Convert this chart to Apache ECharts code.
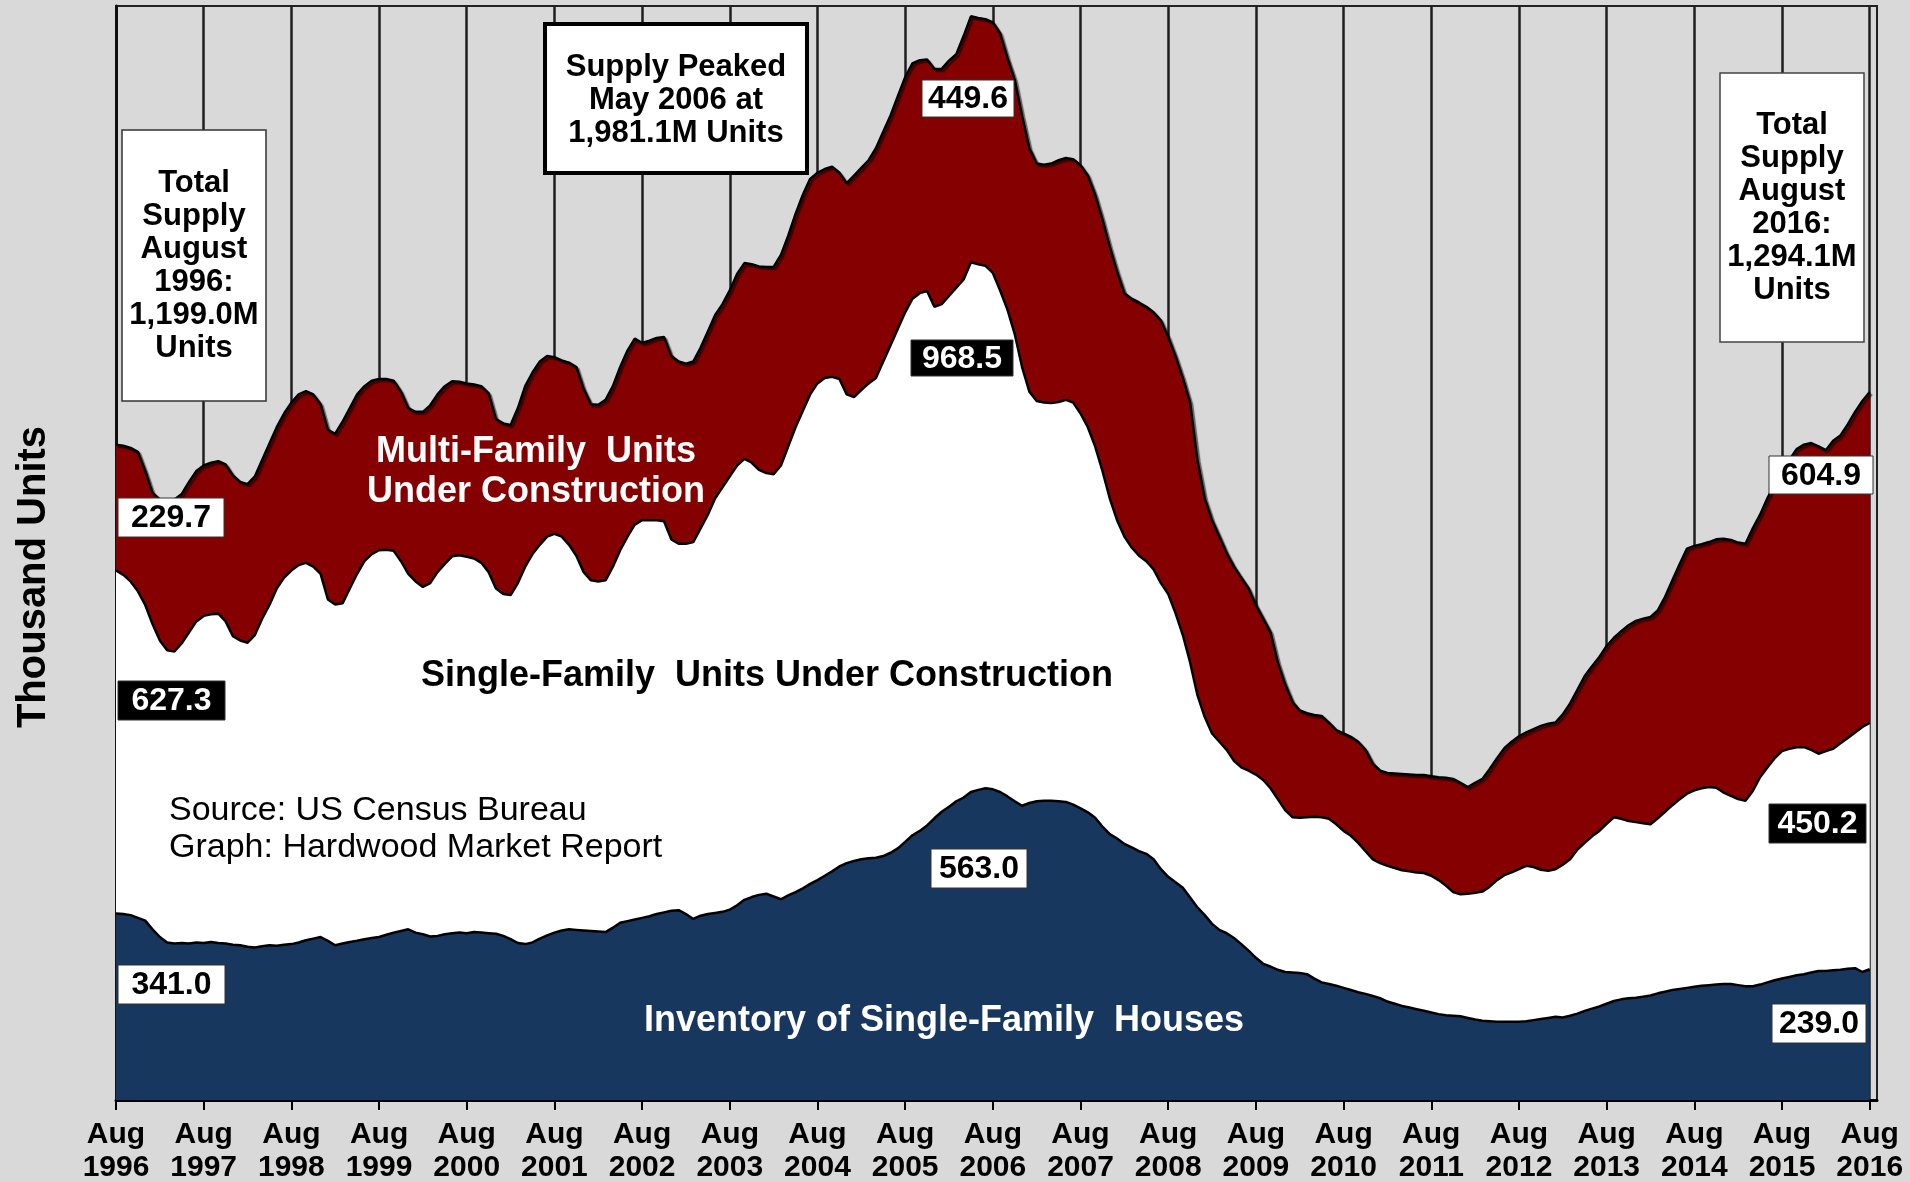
<!DOCTYPE html>
<html>
<head>
<meta charset="utf-8">
<title>Housing Supply</title>
<script src="https://cdn.jsdelivr.net/npm/echarts@6/dist/echarts.min.js"></script>
<style>
  html, body { margin: 0; padding: 0; background: #d9d9d9; }
  #main { width: 1910px; height: 1182px; }
</style>
</head>
<body>
<div id="main"></div>
<script>
// monthly values, Aug 1996 - Aug 2016, thousand units (one row per Aug-Jul year)
var inventory = [
  341.0, 340, 338, 333, 328, 312, 298, 288, 286, 287, 286, 288,
  287, 289, 287, 286, 284, 283, 280, 279, 281, 283, 282, 284,
  285, 288, 292, 295, 298, 291, 283, 286, 289, 291, 294, 296,
  298, 302, 306, 309, 312, 306, 303, 299, 300, 303, 305, 306,
  305, 307, 306, 305, 304, 300, 294, 287, 285, 288, 295, 301,
  306, 310, 312, 311, 310, 309, 308, 307, 315, 324, 327, 330,
  333, 336, 340, 343, 346, 347, 340, 331, 337, 340, 342, 344,
  348, 356, 366, 371, 375, 377, 372, 367, 374, 380, 387, 395,
  402, 410, 418, 427, 433, 437, 440, 442, 443, 446, 452, 460,
  472, 484, 492, 502, 515, 527, 536, 546, 553, 563.0, 567, 570,
  568, 563, 555, 546, 538, 543, 546, 547, 547, 546, 545, 540,
  533, 526, 516, 500, 486, 478, 468, 462, 455, 450, 440, 422,
  408, 398, 388, 370, 352, 338, 322, 311, 305, 296, 285, 273,
  260, 249, 244, 238, 234, 233, 232, 230, 222, 215, 212, 209,
  205, 201, 197, 194, 190, 186, 180, 176, 172, 169, 166, 163,
  160, 157, 155, 154, 153, 150, 147, 145, 144, 143, 143, 143,
  143, 144, 146, 148, 150, 152, 151, 154, 158, 163, 167, 171,
  176, 181, 184, 186, 187, 189, 191, 195, 198, 201, 203, 205,
  207, 209, 210, 211, 212, 212, 210, 208, 208, 211, 215, 219,
  222, 225, 228, 230, 233, 236, 236, 237, 238, 240, 241, 234,
  239.0
];

var singleFamily = [
  627.3, 620, 610, 597, 577, 558, 542, 534, 534, 548, 569, 587,
  598, 599, 602, 589, 564, 557, 556, 571, 599, 622, 653, 671,
  683, 690, 690, 680, 664, 624, 623, 622, 646, 671, 691, 702,
  707, 704, 698, 676, 650, 642, 635, 646, 665, 677, 689, 690,
  688, 683, 676, 660, 631, 625, 629, 658, 690, 710, 720, 729,
  729, 720, 703, 684, 655, 641, 640, 643, 660, 681, 703, 722,
  727, 724, 720, 715, 679, 670, 677, 689, 708, 730, 758, 776,
  792, 804, 806, 794, 777, 769, 772, 793, 821, 850, 873, 895,
  908, 910, 904, 891, 857, 848, 858, 868, 877, 904, 928, 950,
  968, 981, 983, 977, 935, 928, 934, 939, 947, 968.5, 961, 955,
  944, 917, 890, 854, 802, 752, 732, 728, 727, 730, 735, 735,
  722, 704, 679, 650, 614, 582, 562, 548, 540, 535, 530, 523,
  517, 492, 462, 430, 388, 362, 348, 344, 335, 324, 323, 329,
  335, 336, 326, 312, 296, 284, 284, 287, 296, 302, 302, 295,
  287, 282, 273, 261, 250, 247, 248, 248, 248, 249, 250, 252,
  250, 245, 237, 226, 223, 227, 232, 236, 246, 259, 268, 273,
  279, 284, 280, 273, 269, 270, 279, 286, 300, 307, 315, 321,
  329, 336, 330, 324, 321, 317, 313, 320, 329, 338, 347, 355,
  359, 361, 362, 360, 350, 344, 340, 339, 357, 379, 393, 406,
  416, 417, 417, 415, 407, 397, 402, 405, 414, 422, 431, 448,
  450.2
];

var multiFamily = [
  229.7, 236, 244, 255, 245, 240, 258, 273, 278, 273, 275, 275,
  275, 277, 279, 287, 294, 290, 290, 290, 290, 295, 295, 300,
  307, 312, 314, 315, 310, 310, 312, 332, 330, 328, 320, 317,
  313, 312, 311, 310, 303, 310, 320, 325, 325, 325, 320, 317,
  317, 318, 323, 327, 310, 312, 311, 320, 330, 332, 335, 330,
  323, 322, 333, 345, 335, 322, 323, 330, 330, 335, 340, 340,
  324, 328, 333, 337, 335, 333, 329, 330, 330, 335, 335, 335,
  340, 350, 358, 363, 372, 377, 379, 385, 385, 390, 395, 394,
  385, 382, 384, 377, 386, 405, 406, 408, 420, 420, 420, 425,
  430, 430, 426, 423, 435, 430, 430, 427, 445, 449.6, 450, 451,
  458, 470, 460, 465, 460, 445, 434, 435, 438, 442, 442, 445,
  454, 460, 460, 460, 460, 455, 445, 455, 463, 465, 470, 480,
  470, 470, 470, 475, 430, 400, 390, 375, 360, 355, 347, 333,
  310, 295, 285, 250, 230, 211, 196, 190, 186, 185, 176, 172,
  178, 181, 185, 185, 175, 169, 170, 173, 176, 177, 178, 179,
  182, 188, 197, 207, 204, 195, 201, 206, 215, 223, 232, 239,
  243, 244, 252, 263, 269, 268, 275, 285, 292, 305, 311, 318,
  325, 328, 343, 358, 368, 374, 379, 380, 393, 411, 430, 448,
  447, 446, 448, 454, 464, 468, 469, 470, 480, 480, 492, 501,
  512, 528, 545, 553, 561, 562, 550, 563, 563, 573, 586, 596,
  604.9
];

// total supply as stated in the chart's notes: first month, peak month, last month
var statedTotals = [1199.0, 1981.1, 1294.1];

var monthNames = ['Aug', 'Sep', 'Oct', 'Nov', 'Dec', 'Jan', 'Feb', 'Mar', 'Apr', 'May', 'Jun', 'Jul'];
var fullMonth = { Aug: 'August', May: 'May' };

// one spare month after Aug 2016 so the plot runs a little past the last tick
var months = [];
for (var i = 0; i < inventory.length + 1; i++) {
  months.push(monthNames[i % 12] + ' ' + (1996 + Math.floor((i + 7) / 12)));
}

var FONT = "'Liberation Sans', Arial, sans-serif";

function fmt(v) {
  var p = v.toFixed(1).split('.');
  p[0] = p[0].replace(/\B(?=(\d{3})+(?!\d))/g, ',');
  return p.join('.');
}
function total(i) { return inventory[i] + singleFamily[i] + multiFamily[i]; }

var last = inventory.length - 1;
var peak = 0;
for (var k = 1; k < inventory.length; k++) { if (total(k) > total(peak)) peak = k; }
var firstMonth = months[0].split(' ');
var peakMonth = months[peak].split(' ');
var lastMonth = months[last].split(' ');

function box(x, y, w, h, fill, stroke, lw) {
  return { type: 'rect', z: 100, silent: true,
    shape: { x: x, y: y, width: w, height: h },
    style: { fill: fill, stroke: stroke, lineWidth: lw } };
}
function text(x, y, str, color, size, weight, align, lh) {
  return { type: 'text', z: 101, silent: true, x: x, y: y,
    style: { text: str, fill: color, font: weight + ' ' + size + 'px ' + FONT,
      align: align, textAlign: align, verticalAlign: 'middle', textVerticalAlign: 'middle',
      lineHeight: lh || size } };
}
function valueBox(x, y, w, h, v, dark) {
  return [box(x, y, w, h, dark ? '#000' : '#fff', '#333', 1),
    text(x + w / 2, y + h / 2 + 1, v.toFixed(1), dark ? '#fff' : '#000', 32, 'bold', 'center')];
}

var yTitle = text(34, 577, 'Thousand Units', '#000', 40, 'bold', 'center');
yTitle.rotation = Math.PI / 2;

var graphics = [].concat(
  yTitle,
  box(122, 130, 144, 271, '#fff', '#333', 1.5),
  text(194, 266, 'Total\nSupply\n' + fullMonth[firstMonth[0]] + '\n' + firstMonth[1] + ':\n' + fmt(statedTotals[0]) + 'M\nUnits', '#000', 31, 'bold', 'center', 33),
  box(545, 24, 262, 149, '#fff', '#000', 4),
  text(676, 100, 'Supply Peaked\n' + fullMonth[peakMonth[0]] + ' ' + peakMonth[1] + ' at\n' + fmt(statedTotals[1]) + 'M Units', '#000', 31, 'bold', 'center', 33),
  box(1720, 73, 144, 269, '#fff', '#444', 1.5),
  text(1792, 208, 'Total\nSupply\n' + fullMonth[lastMonth[0]] + '\n' + lastMonth[1] + ':\n' + fmt(statedTotals[2]) + 'M\nUnits', '#000', 31, 'bold', 'center', 33),

  valueBox(118, 498, 106, 39, multiFamily[0], false),
  valueBox(118, 681, 107, 39, singleFamily[0], true),
  valueBox(118, 965, 107, 39, inventory[0], false),
  valueBox(922, 80, 92, 37, multiFamily[peak], false),
  valueBox(911, 340, 102, 36, singleFamily[peak], true),
  valueBox(931, 849, 96, 39, inventory[peak], false),
  valueBox(1769, 456, 104, 38, multiFamily[last], false),
  valueBox(1769, 804, 97, 39, singleFamily[last], true),
  valueBox(1772, 1004, 94, 39, inventory[last], false),

  text(536, 472, 'Multi-Family  Units\nUnder Construction', '#fff', 36, 'bold', 'center', 40),
  text(767, 676, 'Single-Family  Units Under Construction', '#000', 36, 'bold', 'center'),
  text(944, 1021, 'Inventory of Single-Family  Houses', '#fff', 36, 'bold', 'center'),
  text(169, 829, 'Source: US Census Bureau\nGraph: Hardwood Market Report', '#000', 34, 'normal', 'left', 37)
);

function yearTick(index) { return index % 12 === 0; }

var chart = echarts.init(document.getElementById('main'));
chart.setOption({
  animation: false,
  backgroundColor: '#d9d9d9',
  grid: {
    left: 116, right: 33, top: 6, bottom: 82,
    containLabel: false, outerBoundsMode: 'none',
    show: true, backgroundColor: '#d9d9d9', borderColor: '#222', borderWidth: 2
  },
  xAxis: {
    type: 'category',
    data: months,
    boundaryGap: false,
    axisLine: { lineStyle: { color: '#000', width: 3 } },
    axisTick: { interval: yearTick, length: 10, lineStyle: { color: '#000', width: 2 } },
    axisLabel: {
      interval: yearTick,
      formatter: function (v) { return v.replace(' ', '\n'); },
      color: '#000', fontFamily: FONT, fontWeight: 'bold', fontSize: 30, lineHeight: 33, margin: 18
    },
    splitLine: { show: true, interval: yearTick, lineStyle: { color: '#1e1e1e', width: 2.5 } }
  },
  yAxis: {
    type: 'value',
    min: 0, max: 2000,
    axisLine: { show: true, lineStyle: { color: '#111', width: 3 } },
    axisTick: { show: false },
    axisLabel: { show: false },
    splitLine: { show: false }
  },
  series: [
    {
      name: 'Inventory of Single-Family Houses',
      type: 'line', stack: 'supply', data: inventory, symbol: 'none', silent: true,
      lineStyle: { color: '#000', width: 2.5 },
      areaStyle: { color: '#17375e', opacity: 1 }
    },
    {
      name: 'Single-Family Units Under Construction',
      type: 'line', stack: 'supply', data: singleFamily, symbol: 'none', silent: true,
      lineStyle: { color: '#000', width: 2.5 },
      areaStyle: { color: '#ffffff', opacity: 1 }
    },
    {
      name: 'Multi-Family Units Under Construction',
      type: 'line', stack: 'supply', data: multiFamily, symbol: 'none', silent: true,
      lineStyle: { color: '#000', width: 2.5, shadowColor: 'rgba(0,0,0,0.55)', shadowOffsetX: 2, shadowOffsetY: 2, shadowBlur: 1 },
      areaStyle: { color: '#850000', opacity: 1 }
    }
  ],
  graphic: graphics
});
</script>
</body>
</html>
